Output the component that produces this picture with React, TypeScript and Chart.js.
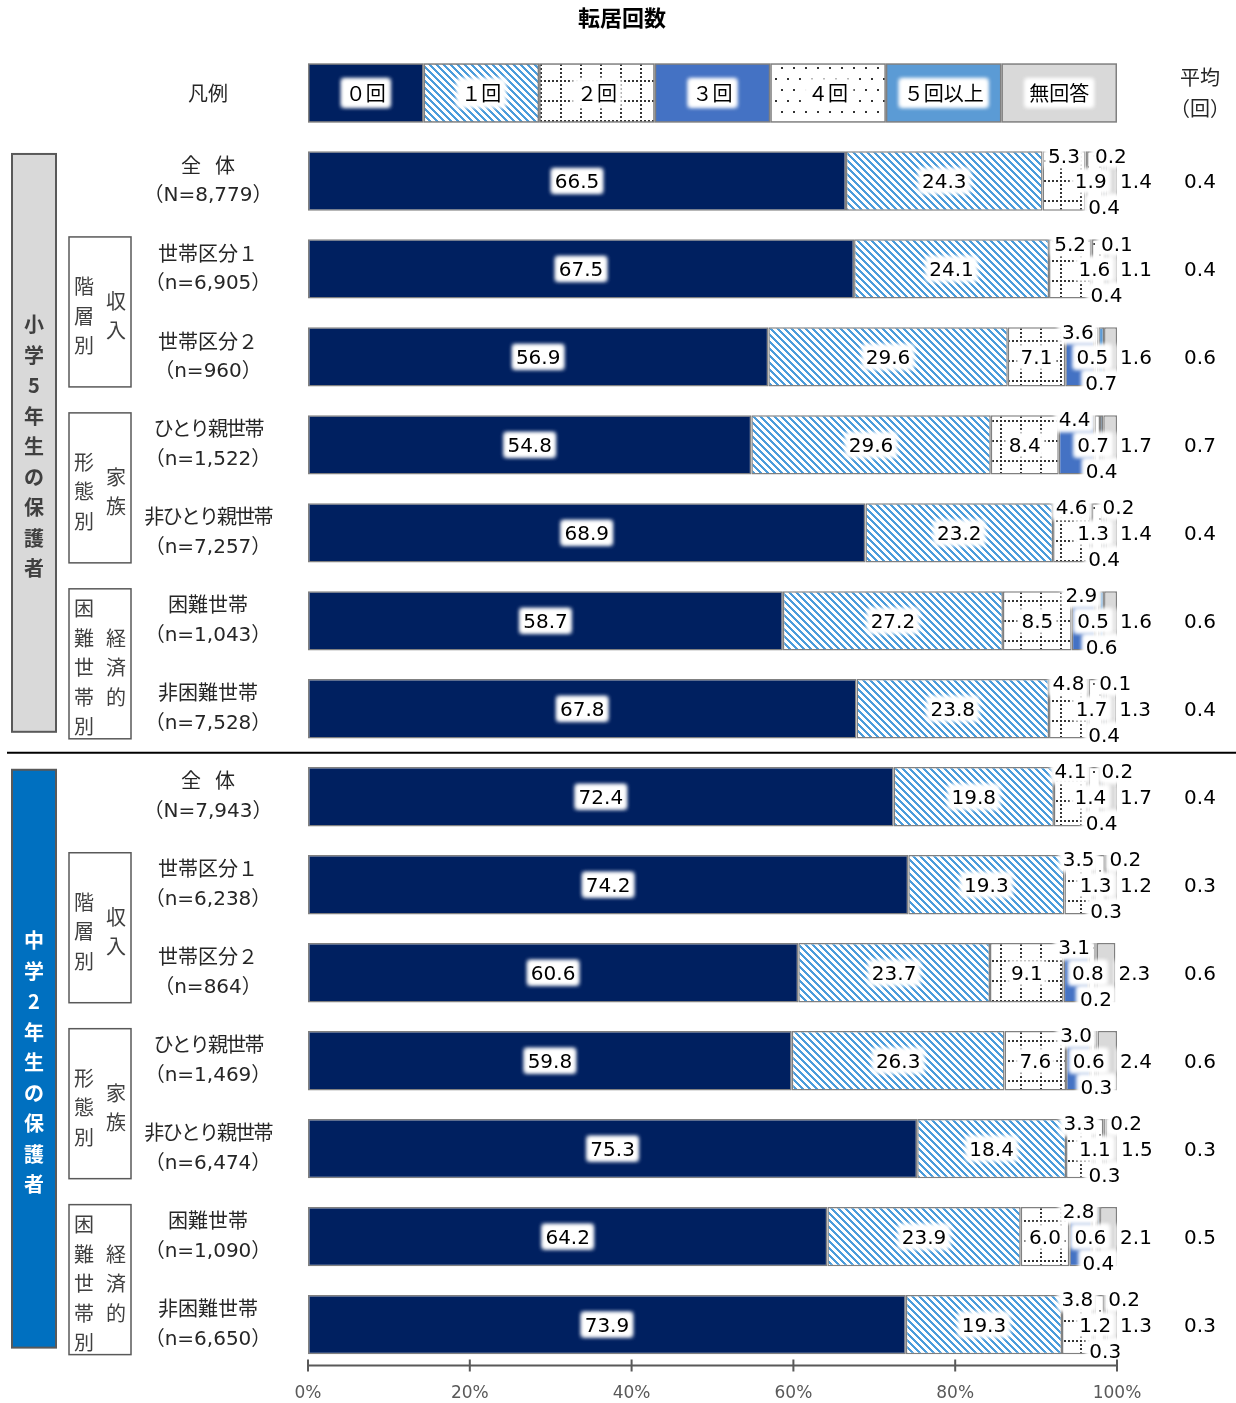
import React, { useEffect, useRef } from 'react';
import { Chart, registerables } from 'chart.js';

Chart.register(...registerables);

// ---------- data ----------
const titleText = '転居回数';
const legendTitle = '凡例';
const avgHeader = ['平均', '（回）'];
const seriesNames = ['０回', '１回', '２回', '３回', '４回', '５回以上', '無回答'];
const groupLabels = ['小学5年生の保護者', '中学2年生の保護者'];
const rowNames = [
  '全 体', '世帯区分１', '世帯区分２', 'ひとり親世帯', '非ひとり親世帯', '困難世帯', '非困難世帯',
  '全 体', '世帯区分１', '世帯区分２', 'ひとり親世帯', '非ひとり親世帯', '困難世帯', '非困難世帯',
];
const rowSizes = [
  '（N=8,779）', '（n=6,905）', '（n=960）', '（n=1,522）', '（n=7,257）', '（n=1,043）', '（n=7,528）',
  '（N=7,943）', '（n=6,238）', '（n=864）', '（n=1,469）', '（n=6,474）', '（n=1,090）', '（n=6,650）',
];
const moves0 = [66.5, 67.5, 56.9, 54.8, 68.9, 58.7, 67.8, 72.4, 74.2, 60.6, 59.8, 75.3, 64.2, 73.9];
const moves1 = [24.3, 24.1, 29.6, 29.6, 23.2, 27.2, 23.8, 19.8, 19.3, 23.7, 26.3, 18.4, 23.9, 19.3];
const moves2 = [5.3, 5.2, 7.1, 8.4, 4.6, 8.5, 4.8, 4.1, 3.5, 9.1, 7.6, 3.3, 6.0, 3.8];
const moves3 = [0.2, 0.1, 3.6, 4.4, 0.2, 2.9, 0.1, 0.2, 0.2, 3.1, 3.0, 0.2, 2.8, 0.2];
const moves4 = [1.9, 1.6, 0.5, 0.7, 1.3, 0.5, 1.7, 1.4, 1.3, 0.8, 0.6, 1.1, 0.6, 1.2];
const moves5plus = [0.4, 0.4, 0.7, 0.4, 0.4, 0.6, 0.4, 0.4, 0.3, 0.2, 0.3, 0.3, 0.4, 0.3];
const noAnswer = [1.4, 1.1, 1.6, 1.7, 1.4, 1.6, 1.3, 1.7, 1.2, 2.3, 2.4, 1.5, 2.1, 1.3];
const averages = [0.4, 0.4, 0.6, 0.7, 0.4, 0.6, 0.4, 0.4, 0.3, 0.6, 0.6, 0.3, 0.5, 0.3];
const xTickStep = 20;
const subGroups = [
  { rows: [1, 2], right: '収入', left: '階層別' },
  { rows: [3, 4], right: '家族', left: '形態別' },
  { rows: [5, 6], right: '経済的', left: '困難世帯別' },
];

const seriesValues = [moves0, moves1, moves2, moves3, moves4, moves5plus, noAnswer];

const JP = '"Noto Sans CJK JP", "Noto Sans CJK SC", sans-serif';
const NUM = '"DejaVu Sans", Verdana, sans-serif';
const MIX = '"DejaVu Sans", "Noto Sans CJK JP", sans-serif';
const BORDER = '#808080';
const BW = 1.5;

function makePattern(w: number, h: number, draw: (g: CanvasRenderingContext2D) => void) {
  const c = document.createElement('canvas');
  c.width = w;
  c.height = h;
  const g = c.getContext('2d')!;
  g.fillStyle = '#ffffff';
  g.fillRect(0, 0, w, h);
  draw(g);
  return g.createPattern(c, 'repeat')!;
}

function buildFills() {
  const hatch = makePattern(7, 7, (g) => {
    g.fillStyle = '#4B9CDB';
    for (let x = 0; x < 7; x++)
      for (let y = 0; y < 7; y++) {
        if ((((x - y) % 7) + 7) % 7 < 3) g.fillRect(x, y, 1, 1);
      }
  });
  const grid = makePattern(20, 20, (g) => {
    g.fillStyle = '#333333';
    for (let k = 0; k < 20; k += 4) {
      g.fillRect(k, 0, 2, 2);
      g.fillRect(0, k, 2, 2);
    }
  });
  const dots = makePattern(12, 22, (g) => {
    g.fillStyle = '#333333';
    g.fillRect(1, 1, 2, 2);
    g.fillRect(7, 12, 2, 2);
  });
  return ['#002060', hatch, grid, '#4472C4', dots, '#5B9BD5', '#D9D9D9'];
}

function halo(ctx: CanvasRenderingContext2D, cx: number, cy: number, w: number, h: number) {
  ctx.save();
  ctx.filter = 'blur(2px)';
  ctx.fillStyle = '#ffffff';
  ctx.fillRect(cx - w / 2, cy - h / 2, w, h);
  ctx.fillRect(cx - w / 2, cy - h / 2, w, h);
  ctx.restore();
}

function numWidth(ctx: CanvasRenderingContext2D, text: string) {
  ctx.font = `20px ${NUM}`;
  return ctx.measureText(text).width;
}

function numLabel(ctx: CanvasRenderingContext2D, text: string, cx: number, cy: number, withHalo = true) {
  ctx.font = `20px ${NUM}`;
  const w = ctx.measureText(text).width;
  if (withHalo) halo(ctx, cx, cy, w + 6, 24);
  ctx.fillStyle = '#000000';
  ctx.textAlign = 'center';
  ctx.textBaseline = 'alphabetic';
  ctx.fillText(text, cx, cy + 7.3);
  return { left: cx - w / 2, right: cx + w / 2 };
}

function jpText(ctx: CanvasRenderingContext2D, text: string, cx: number, cy: number, font: string, color: string) {
  ctx.save();
  ctx.font = font;
  ctx.fillStyle = color;
  ctx.textAlign = 'center';
  ctx.textBaseline = 'middle';
  if (/[ぁ-ん]/.test(text)) (ctx as any).letterSpacing = '-1.8px';
  if (text.includes(' ')) {
    const parts = text.split(' ');
    ctx.fillText(parts[0], cx - 17, cy);
    ctx.fillText(parts[1], cx + 17, cy);
  } else {
    ctx.fillText(text, cx, cy);
  }
  ctx.restore();
}

function verticalText(ctx: CanvasRenderingContext2D, text: string, cx: number, cy: number, pitch: number, font: string, color: string) {
  const chars = Array.from(text);
  ctx.font = font;
  ctx.fillStyle = color;
  ctx.textAlign = 'center';
  ctx.textBaseline = 'middle';
  chars.forEach((ch, k) => {
    ctx.fillText(ch, cx, cy + (k - (chars.length - 1) / 2) * pitch);
  });
}

function makeOverlay(fills: any[]) {
  return {
    id: 'overlay',
    afterDatasetsDraw(chart: any) {
      const ctx: CanvasRenderingContext2D = chart.ctx;
      const ys = chart.scales.y;
      const ca = chart.chartArea;
      const sample = chart.getDatasetMeta(0).data[1];
      const thick = sample.height;

      // legend row
      const ly = ys.getPixelForValue(0);
      const n = seriesNames.length;
      for (let k = 0; k < n; k++) {
        const x0 = ca.left + ((ca.right - ca.left) * k) / n;
        const x1 = ca.left + ((ca.right - ca.left) * (k + 1)) / n;
        ctx.fillStyle = BORDER;
        ctx.fillRect(x0, ly - thick / 2, x1 - x0, thick);
        ctx.fillStyle = fills[k];
        ctx.fillRect(x0 + BW, ly - thick / 2 + BW, x1 - x0 - 2 * BW, thick - 2 * BW);
      }
      for (let k = 0; k < n; k++) {
        const x0 = ca.left + ((ca.right - ca.left) * k) / n;
        const x1 = ca.left + ((ca.right - ca.left) * (k + 1)) / n;
        const cx = (x0 + x1) / 2;
        ctx.font = `20px ${JP}`;
        const w = ctx.measureText(seriesNames[k]).width;
        halo(ctx, cx, ly, w + 8, 28);
        jpText(ctx, seriesNames[k], cx, ly, `20px ${JP}`, '#000000');
      }

      // data labels
      for (let r = 0; r < rowNames.length; r++) {
        const idx = r + 1;
        const segs = seriesValues.map((_, d) => {
          const el = chart.getDatasetMeta(d).data[idx];
          const p = el.getProps(['x', 'y', 'base', 'height'], true);
          const s = Math.min(p.base, p.x);
          const e = Math.max(p.base, p.x);
          return { s, e, c: (s + e) / 2, y: p.y, h: p.height };
        });
        const vals = seriesValues.map((a) => a[r].toFixed(1));
        const mid = segs[0].y;
        const top = mid - segs[0].h / 2 + 4;
        const bot = mid + segs[0].h / 2 - 4;

        numLabel(ctx, vals[0], segs[0].c, mid);
        numLabel(ctx, vals[1], segs[1].c, mid);
        let prevRight = -Infinity;
        if (seriesValues[2][r] >= 6) {
          numLabel(ctx, vals[2], segs[2].c, mid);
        } else {
          prevRight = numLabel(ctx, vals[2], segs[2].c, top).right;
        }
        const w3 = numWidth(ctx, vals[3]);
        let cx3 = segs[3].c - 2;
        if (cx3 - w3 / 2 < prevRight + 15) cx3 = prevRight + 15 + w3 / 2;
        numLabel(ctx, vals[3], cx3, top);
        numLabel(ctx, vals[4], segs[4].c - 4, mid);
        numLabel(ctx, vals[5], segs[5].c, bot);
        numLabel(ctx, vals[6], segs[6].e + 19, mid);
        numLabel(ctx, averages[r].toFixed(1), 1200, mid, false);
      }
    },
    afterDraw(chart: any) {
      const ctx: CanvasRenderingContext2D = chart.ctx;
      const ys = chart.scales.y;
      const xs = chart.scales.x;
      const ca = chart.chartArea;
      const rc = (i: number) => ys.getPixelForValue(i + 1);

      // title
      jpText(ctx, titleText, 622, 18, `bold 22px ${JP}`, '#000000');
      // legend title & avg header
      const ly = ys.getPixelForValue(0);
      jpText(ctx, legendTitle, 208, ly, `20px ${JP}`, '#262626');
      jpText(ctx, avgHeader[0], 1200, ly - 16, `20px ${JP}`, '#262626');
      jpText(ctx, avgHeader[1], 1200, ly + 15, `20px ${JP}`, '#262626');

      // category labels
      for (let r = 0; r < rowNames.length; r++) {
        const c = rc(r);
        jpText(ctx, rowNames[r], 208, c - 16, `20px ${JP}`, '#262626');
        jpText(ctx, rowSizes[r], 208, c + 15, `20px ${MIX}`, '#262626');
      }

      // group boxes
      groupLabels.forEach((g, gi) => {
        const first = rc(gi * 7);
        const last = rc(gi * 7 + 6);
        const t = first - 27;
        const b = last + 23;
        ctx.fillStyle = gi === 0 ? '#D9D9D9' : '#0070C0';
        ctx.fillRect(12, t, 44, b - t);
        ctx.strokeStyle = '#595959';
        ctx.lineWidth = 2;
        ctx.strokeRect(12, t, 44, b - t);
        verticalText(ctx, g, 34, (t + b) / 2 + 4, 30.5, `bold 20px ${JP}`, gi === 0 ? '#404040' : '#ffffff');

        subGroups.forEach((sg) => {
          const r1 = rc(gi * 7 + sg.rows[0]);
          const r2 = rc(gi * 7 + sg.rows[1]);
          const st = r1 - 32;
          const sb = r2 + 30;
          ctx.fillStyle = '#ffffff';
          ctx.fillRect(69, st, 62, sb - st);
          ctx.strokeStyle = '#595959';
          ctx.lineWidth = 1.5;
          ctx.strokeRect(69, st, 62, sb - st);
          const cc = (st + sb) / 2 + 4;
          verticalText(ctx, sg.left, 84, cc, 29.5, `20px ${JP}`, '#404040');
          verticalText(ctx, sg.right, 116, cc, 29.5, `20px ${JP}`, '#404040');
        });
      });

      // separator
      const sy = (rc(6) + rc(7)) / 2;
      ctx.strokeStyle = '#000000';
      ctx.lineWidth = 2;
      ctx.beginPath();
      ctx.moveTo(7, sy);
      ctx.lineTo(1236, sy);
      ctx.stroke();

      // x axis line + ticks
      const ay = ca.bottom - 3;
      ctx.strokeStyle = '#595959';
      ctx.lineWidth = 2;
      ctx.beginPath();
      ctx.moveTo(ca.left, ay);
      ctx.lineTo(ca.right, ay);
      xs.ticks.forEach((t: any) => {
        const x = xs.getPixelForValue(t.value);
        ctx.moveTo(x, ay - 6);
        ctx.lineTo(x, ay + 6);
      });
      ctx.stroke();
    },
  };
}

export default function App() {
  const ref = useRef<HTMLCanvasElement | null>(null);

  useEffect(() => {
    if (!ref.current) return;
    const fills = buildFills();
    const chart = new Chart(ref.current, {
      type: 'bar',
      data: {
        labels: [legendTitle, ...rowNames],
        datasets: seriesNames.map((name, d) => ({
          label: name,
          data: [null, ...seriesValues[d]],
          backgroundColor: fills[d] as any,
          borderColor: BORDER,
          borderWidth: BW,
          borderSkipped: false,
          categoryPercentage: 1,
          barPercentage: 0.675,
          stack: 's',
        })),
      },
      options: {
        indexAxis: 'y',
        responsive: false,
        animation: false,
        devicePixelRatio: 1,
        layout: { padding: { left: 308, right: 119, top: 49, bottom: 0 } },
        plugins: { legend: { display: false }, tooltip: { enabled: false }, title: { display: false } },
        scales: {
          x: {
            type: 'linear',
            min: 0,
            max: 100,
            stacked: true,
            grid: { display: false, drawTicks: false },
            border: { display: false },
            ticks: {
              stepSize: xTickStep,
              autoSkip: false,
              maxRotation: 0,
              padding: 15,
              color: '#595959',
              font: { family: NUM, size: 17 },
              callback: (v: any) => `${v}%`,
            },
          },
          y: { stacked: true, display: false },
        },
      },
      plugins: [makeOverlay(fills)],
    });
    return () => chart.destroy();
  }, []);

  return (
    <div style={{ position: 'absolute', left: 0, top: 0, width: 1236, height: 1403, overflow: 'hidden', background: '#ffffff' }}>
      <canvas ref={ref} width={1236} height={1419} style={{ display: 'block', width: 1236, height: 1419 }} />
    </div>
  );
}
